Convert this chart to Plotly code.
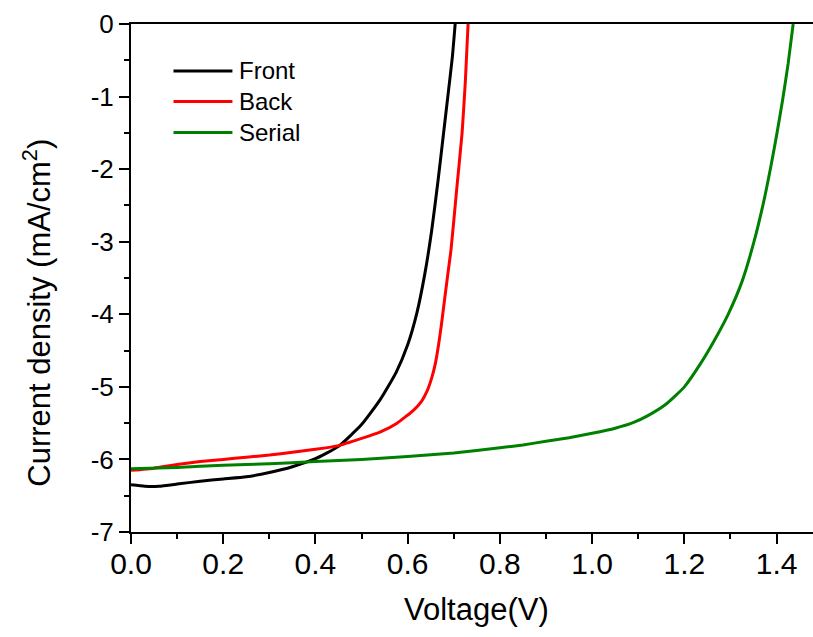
import plotly.graph_objects as go

# ---- data ----
front_v = [0.0, 0.03, 0.06, 0.10, 0.15, 0.20, 0.25, 0.30, 0.35, 0.40, 0.45, 0.50,
           0.54, 0.575, 0.600, 0.620, 0.637, 0.652, 0.666, 0.677, 0.688, 0.697, 0.703]
front_j = [-6.35, -6.37, -6.37, -6.34, -6.30, -6.27, -6.24, -6.18, -6.10, -5.99, -5.82, -5.52,
           -5.18, -4.80, -4.42, -3.98, -3.45, -2.85, -2.15, -1.55, -0.95, -0.45, 0.0]

back_v = [0.0, 0.05, 0.10, 0.15, 0.20, 0.25, 0.30, 0.35, 0.40, 0.45, 0.50, 0.541,
          0.577, 0.613, 0.630, 0.642, 0.652, 0.660, 0.667, 0.673, 0.680, 0.687, 0.694,
          0.706, 0.718, 0.725, 0.731]
back_j = [-6.15, -6.12, -6.07, -6.03, -6.00, -5.97, -5.94, -5.90, -5.86, -5.81, -5.71, -5.62,
          -5.50, -5.32, -5.20, -5.06, -4.88, -4.68, -4.42, -4.15, -3.80, -3.45, -3.11,
          -2.30, -1.50, -0.80, 0.0]

serial_v = [0.0, 0.1, 0.2, 0.3, 0.4, 0.5, 0.6, 0.7, 0.8, 0.85, 0.9, 0.95, 1.0, 1.05,
            1.09, 1.12, 1.16, 1.20, 1.235, 1.265, 1.295, 1.325, 1.351, 1.372, 1.388,
            1.401, 1.413, 1.425, 1.436]
serial_j = [-6.13, -6.11, -6.08, -6.06, -6.03, -6.00, -5.96, -5.91, -5.84, -5.80, -5.75, -5.70, -5.64, -5.57,
            -5.49, -5.40, -5.24, -5.00, -4.68, -4.36, -4.00, -3.55, -3.00, -2.45, -1.95,
            -1.50, -1.05, -0.55, 0.0]

names = ["Front", "Back", "Serial"]
colors = ["#000000", "#ff0000", "#008000"]

x_ticks = [0.0, 0.2, 0.4, 0.6, 0.8, 1.0, 1.2, 1.4]
x_ticktext = ["0.0", "0.2", "0.4", "0.6", "0.8", "1.0", "1.2", "1.4"]
y_ticks = [0, -1, -2, -3, -4, -5, -6, -7]
y_ticktext = ["0", "-1", "-2", "-3", "-4", "-5", "-6", "-7"]

FONT = "Arial, 'Liberation Sans', sans-serif"

fig = go.Figure()
for v, j, n, c in zip([front_v, back_v, serial_v], [front_j, back_j, serial_j], names, colors):
    fig.add_trace(go.Scatter(x=v, y=j, mode="lines", name=n,
                             line=dict(color=c, width=3, shape="spline", smoothing=0.5),
                             showlegend=False))

W, H = 813, 637
ml, mr, mt, mb = 130.5, 0, 24, 104.5

fig.update_layout(
    width=W, height=H,
    margin=dict(l=ml, r=mr, t=mt, b=mb),
    paper_bgcolor="white", plot_bgcolor="white",
    font=dict(family=FONT, color="black"),
    xaxis=dict(range=[0, 1.479], tickvals=x_ticks, ticktext=x_ticktext,
               ticks="outside", ticklen=10, tickwidth=2, tickcolor="black",
               minor=dict(ticks="outside", ticklen=5, tickwidth=2, tickcolor="black", dtick=0.1, tick0=0),
               showline=True, linewidth=2, linecolor="black", mirror=True,
               showgrid=False, zeroline=False, ticklabelstandoff=-6,
               tickfont=dict(size=30, family=FONT), automargin=False),
    yaxis=dict(range=[-7, 0], tickvals=y_ticks, ticktext=y_ticktext,
               ticks="outside", ticklen=10, tickwidth=2, tickcolor="black",
               minor=dict(ticks="outside", ticklen=5, tickwidth=2, tickcolor="black", dtick=0.5, tick0=0),
               showline=True, linewidth=2, linecolor="black", mirror=False,
               showgrid=False, zeroline=False,
               tickfont=dict(size=26, family=FONT), automargin=False),
)

# axis titles
fig.add_annotation(text="Voltage(V)", xref="paper", yref="paper", x=0.506, y=-0.152,
                   xanchor="center", yanchor="middle", showarrow=False,
                   font=dict(size=31, family=FONT, color="black"))
fig.add_annotation(text="Current density (mA/cm<sup>2</sup>)", xref="paper", yref="paper",
                   x=-0.139, y=0.432, xanchor="center", yanchor="middle", textangle=-90,
                   showarrow=False, font=dict(size=31, family=FONT, color="black"))

# legend (drawn manually)
pw = W - ml - mr
ph = H - mt - mb
leg_y_px = [71, 101.5, 132.5]
for n, c, ypx in zip(names, colors, leg_y_px):
    yp = (H - mb - ypx) / ph
    fig.add_shape(type="line", xref="paper", yref="paper",
                  x0=(173 - ml) / pw, x1=(232 - ml) / pw, y0=yp, y1=yp,
                  line=dict(color=c, width=3))
    fig.add_annotation(text=n, xref="paper", yref="paper", x=(237 - ml) / pw, y=yp,
                       xanchor="left", yanchor="middle", showarrow=False,
                       font=dict(size=24, family=FONT, color="black"))

fig.write_html("out.html", config={"displayModeBar": False},
               post_script="document.body.style.margin='0px';")
